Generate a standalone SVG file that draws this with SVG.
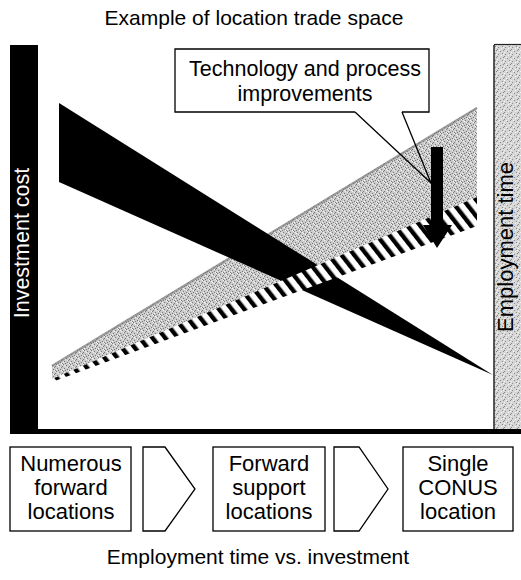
<svg xmlns="http://www.w3.org/2000/svg" width="521" height="580" viewBox="0 0 521 580">
<style>
text{font-family:"Liberation Sans",Arial,sans-serif;fill:#000}
.t{font-size:21px}
.lbl{font-size:22px;text-anchor:middle}
.box{fill:#fff;stroke:#000;stroke-width:1.3}
.ln{fill:none;stroke:#000;stroke-width:1.3}
</style>
<defs>
<pattern id="stip" width="7" height="7" patternUnits="userSpaceOnUse">
<rect width="7" height="7" fill="#cbcbcb"/>
<path d="M0 0h1v1h-1zM3 1h1v1h-1zM5 3h1v1h-1zM1 4h1v1h-1zM4 5h1v1h-1zM6 6h1v1h-1zM2 6h1v1h-1zM6 2h1v1h-1z" fill="#7a7a7a"/>
<path d="M2 2h1v1h-1zM6 0h1v1h-1zM0 5h1v1h-1zM4 3h1v1h-1zM1 1h1v1h-1zM5 6h1v1h-1z" fill="#f4f4f4"/>
</pattern>
<pattern id="stip2" width="7" height="7" patternUnits="userSpaceOnUse">
<rect width="7" height="7" fill="#d6d6d6"/>
<path d="M0 0h1v1h-1zM3 2h1v1h-1zM5 4h1v1h-1zM1 5h1v1h-1zM6 1h1v1h-1z" fill="#8a8a8a"/>
<path d="M2 1h1v1h-1zM4 6h1v1h-1zM0 3h1v1h-1zM6 5h1v1h-1z" fill="#f6f6f6"/>
</pattern>
<pattern id="hatch" width="10" height="10" patternUnits="userSpaceOnUse" patternTransform="rotate(-38)">
<rect width="10" height="10" fill="#fff"/>
<rect x="0" y="0" width="4.4" height="10" fill="#000"/>
</pattern>
</defs>

<text class="t" x="254" y="25" text-anchor="middle">Example of location trade space</text>

<g id="axis-left">
<rect x="10" y="45" width="28" height="389" fill="#000"/>
<text class="t" transform="translate(29,243) rotate(-90)" text-anchor="middle" style="fill:#fff;font-size:21.5px">Investment cost</text>
</g>
<g id="axis-right">
<rect x="494" y="45" width="27" height="386" fill="url(#stip2)"/>
<line x1="494" y1="45" x2="494" y2="431" stroke="#222" stroke-width="1.5"/>
<line x1="494" y1="44.5" x2="521" y2="44.5" stroke="#222" stroke-width="1.2"/>
<text class="t" transform="translate(513,247) rotate(-90)" text-anchor="middle" style="font-size:22px">Employment time</text>
</g>
<rect id="baseline" x="10" y="429" width="511" height="5" fill="#000"/>

<g id="grey-band">
<polygon points="52,365 477,107 477,197 52,379" fill="url(#stip)"/>
<line x1="52" y1="366" x2="477" y2="108" stroke="#777" stroke-width="2.5" opacity="0.6"/>
</g>
<g id="cost-wedge">
<polygon points="59,103 493,375 59,182" fill="#000"/>
</g>
<g id="hatch-band">
<polygon points="52,379 477,197 477,226 52,382" fill="url(#hatch)"/>
</g>

<g id="callout">
<path class="box" d="M355,112 H175 V49 H429 V112 H402"/>
<text class="t" x="305" y="76" text-anchor="middle" style="font-size:21.5px">Technology and process</text>
<text class="t" x="305" y="101" text-anchor="middle" style="font-size:21.5px">improvements</text>
</g>
<g id="connectors">
<polyline class="ln" points="355,112 431,183 402,112"/>
<polygon points="431,147 443,147 443,225 452,225 437,248 423,225 431,225" fill="#000"/>
<path class="ln" d="M143,447 H165 L195,489 L165,531 H143 Z"/>
<path class="ln" d="M334,447 H359 L388,489 L359,531 H334 Z"/>
</g>

<g id="node-numerous">
<rect class="box" x="10" y="447" width="121" height="84"/>
<text class="lbl" x="71" y="471">Numerous</text>
<text class="lbl" x="71" y="495">forward</text>
<text class="lbl" x="71" y="519">locations</text>
</g>
<g id="node-forward">
<rect class="box" x="213" y="447" width="112" height="84"/>
<text class="lbl" x="269" y="471">Forward</text>
<text class="lbl" x="269" y="495">support</text>
<text class="lbl" x="269" y="519">locations</text>
</g>
<g id="node-single">
<rect class="box" x="403" y="447" width="110" height="84"/>
<text class="lbl" x="458" y="471">Single</text>
<text class="lbl" x="458" y="495">CONUS</text>
<text class="lbl" x="458" y="519">location</text>
</g>

<text class="t" x="258" y="564" text-anchor="middle">Employment time vs. investment</text>
</svg>
